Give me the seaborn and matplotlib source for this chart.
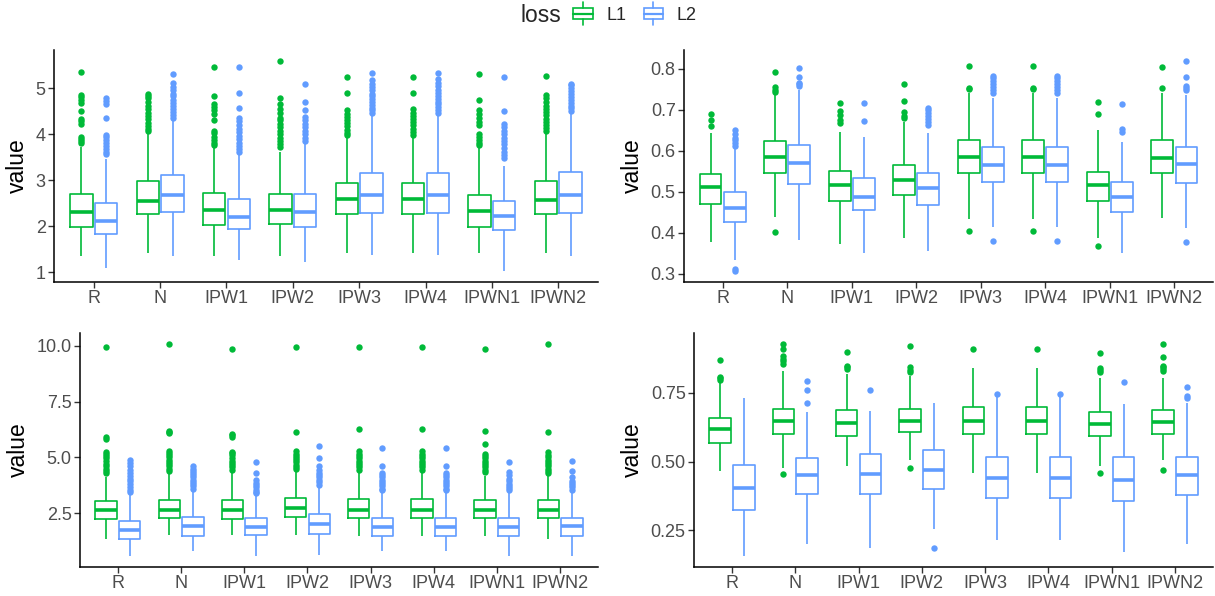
import numpy as np
import pandas as pd
import seaborn as sns
import matplotlib.pyplot as plt
from matplotlib.patches import Rectangle
from matplotlib.lines import Line2D
from matplotlib.legend_handler import HandlerBase

METHODS = ["R", "N", "IPW1", "IPW2", "IPW3", "IPW4", "IPWN1", "IPWN2"]
LOSSES = ["L1", "L2"]
COLORS = {"L1": "#00BA38", "L2": "#619CFF"}

# box summaries: (lower whisker, q1, median, q3, upper whisker)
P1_L1 = [(1.36, 1.99, 2.32, 2.71, 3.73), (1.43, 2.27, 2.56, 2.98, 4.02), (1.35, 2.03, 2.35, 2.72, 3.70),
         (1.35, 2.06, 2.36, 2.70, 3.62), (1.42, 2.27, 2.60, 2.95, 3.94), (1.42, 2.26, 2.60, 2.95, 3.95),
         (1.42, 1.99, 2.33, 2.69, 3.70), (1.42, 2.26, 2.57, 2.98, 4.02)]
P1_L1_OUT = [[3.82, 3.86, 3.90, 3.95, 4.22, 4.28, 4.33, 4.50, 4.68, 4.74, 4.80, 4.86, 5.35],
             [4.07, 4.12, 4.18, 4.25, 4.32, 4.40, 4.47, 4.55, 4.62, 4.70, 4.78, 4.84, 4.87],
             [3.77, 3.82, 3.88, 3.95, 4.02, 4.08, 4.30, 4.45, 4.52, 4.60, 4.65, 4.83, 5.45],
             [3.72, 3.78, 3.85, 3.92, 4.00, 4.08, 4.15, 4.22, 4.30, 4.35, 4.47, 4.55, 4.65, 4.78, 5.60],
             [3.98, 4.03, 4.10, 4.17, 4.24, 4.31, 4.38, 4.45, 4.52, 4.90, 5.25],
             [3.99, 4.05, 4.12, 4.19, 4.26, 4.33, 4.40, 4.47, 4.54, 4.90, 5.25],
             [3.76, 3.82, 3.88, 3.94, 4.00, 4.20, 4.27, 4.35, 4.43, 4.52, 4.75, 5.30],
             [4.08, 4.14, 4.20, 4.27, 4.34, 4.41, 4.48, 4.55, 4.62, 4.70, 4.78, 4.85, 5.27]]
P1_L2 = [(1.09, 1.83, 2.12, 2.50, 3.47), (1.36, 2.32, 2.68, 3.12, 4.30), (1.26, 1.94, 2.21, 2.60, 3.57),
         (1.22, 1.98, 2.32, 2.71, 3.78), (1.38, 2.30, 2.68, 3.16, 4.40), (1.38, 2.30, 2.68, 3.16, 4.40),
         (1.02, 1.92, 2.22, 2.54, 3.30), (1.35, 2.30, 2.67, 3.17, 4.45)]
P1_L2_OUT = [[3.56, 3.62, 3.68, 3.75, 3.82, 3.88, 3.93, 3.98, 4.35, 4.65, 4.72, 4.78],
             [4.36, 4.42, 4.48, 4.55, 4.62, 4.68, 4.75, 4.82, 4.88, 4.95, 5.02, 5.12, 5.30],
             [3.62, 3.68, 3.75, 3.82, 3.90, 3.97, 4.05, 4.12, 4.20, 4.28, 4.35, 4.57, 4.90, 5.47],
             [3.85, 3.92, 4.00, 4.08, 4.15, 4.22, 4.30, 4.38, 4.52, 4.70, 5.10],
             [4.47, 4.52, 4.58, 4.64, 4.70, 4.76, 4.82, 4.88, 4.95, 5.02, 5.10, 5.18, 5.32],
             [4.47, 4.53, 4.59, 4.65, 4.71, 4.77, 4.83, 4.90, 4.97, 5.04, 5.12, 5.20, 5.33],
             [3.49, 3.55, 3.62, 3.70, 3.78, 3.85, 3.92, 4.00, 4.08, 4.15, 4.22, 4.50, 5.25],
             [4.50, 4.56, 4.62, 4.68, 4.74, 4.80, 4.87, 4.94, 5.00, 5.06, 5.10]]

P2_L1 = [(0.377, 0.470, 0.511, 0.544, 0.644), (0.439, 0.545, 0.585, 0.623, 0.738), (0.371, 0.476, 0.515, 0.550, 0.646),
         (0.386, 0.492, 0.528, 0.566, 0.669), (0.432, 0.545, 0.584, 0.626, 0.740), (0.432, 0.545, 0.584, 0.626, 0.740),
         (0.386, 0.477, 0.515, 0.547, 0.650), (0.436, 0.546, 0.583, 0.626, 0.740)]
P2_L1_OUT = [[0.660, 0.675, 0.690], [0.402, 0.742, 0.748, 0.755, 0.792], [0.668, 0.675, 0.688, 0.698, 0.716],
             [0.680, 0.685, 0.695, 0.720, 0.762], [0.404, 0.750, 0.752, 0.807], [0.404, 0.750, 0.752, 0.807],
             [0.366, 0.690, 0.718], [0.752, 0.805]]
P2_L2 = [(0.334, 0.426, 0.459, 0.498, 0.604), (0.381, 0.519, 0.569, 0.613, 0.749), (0.351, 0.455, 0.488, 0.532, 0.633),
         (0.356, 0.468, 0.508, 0.545, 0.644), (0.414, 0.523, 0.566, 0.608, 0.728), (0.414, 0.523, 0.566, 0.608, 0.728),
         (0.351, 0.449, 0.487, 0.524, 0.622), (0.412, 0.520, 0.568, 0.610, 0.736)]
P2_L2_OUT = [[0.305, 0.310, 0.612, 0.618, 0.625, 0.632, 0.640, 0.650], [0.757, 0.762, 0.766, 0.781, 0.803],
             [0.672, 0.717], [0.662, 0.670, 0.678, 0.685, 0.692, 0.700, 0.705],
             [0.380, 0.740, 0.748, 0.755, 0.762, 0.770, 0.777, 0.782], [0.380, 0.740, 0.748, 0.755, 0.762, 0.770, 0.777, 0.782],
             [0.645, 0.652, 0.715], [0.378, 0.748, 0.752, 0.758, 0.780, 0.820]]

P3_L1 = [(1.35, 2.24, 2.63, 3.04, 4.12), (1.50, 2.29, 2.66, 3.10, 4.27), (1.50, 2.23, 2.63, 3.10, 4.30),
         (1.53, 2.32, 2.72, 3.17, 4.36), (1.49, 2.27, 2.66, 3.13, 4.32), (1.49, 2.27, 2.66, 3.13, 4.32),
         (1.49, 2.29, 2.66, 3.11, 4.17), (1.35, 2.29, 2.63, 3.08, 4.17)]
P3_L1_OUT = [[4.28, 4.40, 4.50, 4.62, 4.72, 4.85, 4.95, 5.05, 5.15, 5.25, 5.82, 5.90, 9.95],
             [4.40, 4.50, 4.60, 4.70, 4.80, 4.90, 5.00, 5.10, 5.20, 5.30, 6.08, 6.15, 6.20, 10.10],
             [4.45, 4.55, 4.65, 4.75, 4.85, 4.95, 5.10, 5.20, 5.25, 5.92, 6.00, 6.05, 9.88],
             [4.47, 4.57, 4.67, 4.77, 4.87, 4.97, 5.07, 5.17, 5.30, 6.15, 9.97],
             [4.45, 4.55, 4.65, 4.75, 4.85, 4.95, 5.05, 5.15, 5.30, 6.25, 9.97],
             [4.45, 4.55, 4.65, 4.75, 4.85, 4.95, 5.05, 5.15, 5.30, 6.25, 9.97],
             [4.36, 4.45, 4.55, 4.65, 4.75, 4.85, 4.95, 5.05, 5.15, 5.60, 6.20, 9.85],
             [4.30, 4.40, 4.50, 4.60, 4.70, 4.80, 4.90, 5.00, 5.10, 5.25, 6.15, 10.07]]
P3_L2 = [(0.56, 1.32, 1.73, 2.15, 3.34), (0.81, 1.49, 1.91, 2.32, 3.52), (0.56, 1.53, 1.86, 2.26, 3.30),
         (0.63, 1.56, 2.00, 2.44, 3.64), (0.78, 1.46, 1.86, 2.27, 3.45), (0.78, 1.46, 1.86, 2.27, 3.45),
         (0.56, 1.46, 1.86, 2.27, 3.41), (0.59, 1.49, 1.91, 2.30, 3.41)]
P3_L2_OUT = [[3.45, 3.55, 3.65, 3.80, 3.95, 4.05, 4.15, 4.30, 4.45, 4.60, 4.75, 4.88],
             [3.60, 3.70, 3.80, 3.90, 4.00, 4.10, 4.20, 4.30, 4.40, 4.50, 4.60],
             [3.38, 3.45, 3.55, 3.65, 3.75, 3.85, 4.00, 4.30, 4.80],
             [3.78, 3.88, 3.98, 4.10, 4.20, 4.30, 4.45, 4.60, 4.95, 5.50],
             [3.52, 3.60, 3.70, 3.80, 3.90, 4.00, 4.10, 4.20, 4.30, 4.60, 5.40],
             [3.52, 3.60, 3.70, 3.80, 3.90, 4.00, 4.10, 4.20, 4.30, 4.60, 5.40],
             [3.52, 3.62, 3.72, 3.82, 3.92, 4.05, 4.20, 4.35, 4.80],
             [3.55, 3.65, 3.75, 3.85, 3.95, 4.10, 4.40, 4.85]]

P4_L1 = [(0.467, 0.568, 0.618, 0.659, 0.787), (0.475, 0.599, 0.649, 0.693, 0.830), (0.482, 0.592, 0.640, 0.687, 0.820),
         (0.504, 0.606, 0.648, 0.690, 0.812), (0.457, 0.599, 0.647, 0.698, 0.841), (0.457, 0.599, 0.647, 0.698, 0.841),
         (0.485, 0.594, 0.636, 0.679, 0.804), (0.506, 0.602, 0.645, 0.688, 0.804)]
P4_L1_OUT = [[0.797, 0.803, 0.810, 0.870], [0.455, 0.855, 0.865, 0.875, 0.885, 0.910, 0.930],
             [0.838, 0.845, 0.850, 0.900], [0.476, 0.825, 0.835, 0.845, 0.920], [0.910], [0.910],
             [0.457, 0.828, 0.835, 0.842, 0.895], [0.470, 0.830, 0.838, 0.845, 0.850, 0.880, 0.930]]
P4_L2 = [(0.154, 0.324, 0.405, 0.489, 0.730), (0.198, 0.381, 0.450, 0.512, 0.681), (0.186, 0.381, 0.453, 0.526, 0.683),
         (0.254, 0.400, 0.469, 0.543, 0.712), (0.213, 0.366, 0.440, 0.516, 0.735), (0.213, 0.366, 0.440, 0.516, 0.735),
         (0.171, 0.356, 0.432, 0.515, 0.708), (0.198, 0.378, 0.451, 0.516, 0.715)]
P4_L2_OUT = [[], [0.715, 0.760, 0.795], [0.762], [0.183], [0.745], [0.745], [0.790], [0.732, 0.740, 0.770]]

REP = 100  # copies of each quartile so the drawn box matches the read summary


def panel_frame(l1, l1_out, l2, l2_out):
    rows = []
    for loss, stats, outs in (("L1", l1, l1_out), ("L2", l2, l2_out)):
        for m, (lo, q1, med, q3, hi), extra in zip(METHODS, stats, outs):
            vals = [lo, hi] + [q1] * REP + [med] * REP + [q3] * REP + list(extra)
            rows += [(m, loss, v) for v in vals]
    return pd.DataFrame(rows, columns=["method", "loss", "value"])


class BoxKey(HandlerBase):
    # ggplot-like legend key: small box with median and whiskers
    def create_artists(self, legend, orig, xd, yd, w, h, fs, trans):
        c = orig.get_edgecolor()
        x0, y0 = -xd, -yd
        xc = x0 + w / 2
        box = Rectangle((x0 + 0.05 * w, y0 + 0.15 * h), 0.9 * w, 0.7 * h, fill=False,
                        edgecolor=c, linewidth=1.2, transform=trans)
        med = Line2D([x0 + 0.05 * w, x0 + 0.95 * w], [y0 + 0.5 * h] * 2, color=c, linewidth=1.6, transform=trans)
        lo = Line2D([xc, xc], [y0 - 0.25 * h, y0 + 0.15 * h], color=c, linewidth=1.2, transform=trans)
        hi = Line2D([xc, xc], [y0 + 0.85 * h, y0 + 1.25 * h], color=c, linewidth=1.2, transform=trans)
        return [box, med, lo, hi]


sns.set_style("ticks")
plt.rcParams["font.family"] = ["Liberation Sans", "DejaVu Sans"]

fig = plt.figure(figsize=(12.15, 5.96), dpi=100)

panels = [
    ((P1_L1, P1_L1_OUT, P1_L2, P1_L2_OUT), [54, 50, 598, 282], [1, 2, 3, 4, 5], ["1", "2", "3", "4", "5"]),
    ((P2_L1, P2_L1_OUT, P2_L2, P2_L2_OUT), [684, 50, 1213, 282], [0.3, 0.4, 0.5, 0.6, 0.7, 0.8],
     ["0.3", "0.4", "0.5", "0.6", "0.7", "0.8"]),
    ((P3_L1, P3_L1_OUT, P3_L2, P3_L2_OUT), [80, 333, 598, 567], [2.5, 5.0, 7.5, 10.0], ["2.5", "5.0", "7.5", "10.0"]),
    ((P4_L1, P4_L1_OUT, P4_L2, P4_L2_OUT), [694, 333, 1213, 567], [0.25, 0.50, 0.75], ["0.25", "0.50", "0.75"]),
]

W, H = 1215, 596
for data, (x0, y0, x1, y1), ticks, labels in panels:
    ax = fig.add_axes([x0 / W, 1 - y1 / H, (x1 - x0) / W, (y1 - y0) / H])
    df = panel_frame(*data)
    sns.boxplot(data=df, x="method", y="value", hue="loss", order=METHODS, hue_order=LOSSES,
                palette=COLORS, fill=False, width=0.75, gap=0.1, showcaps=False, linewidth=1.2,
                flierprops=dict(marker="o", markersize=4.6, markeredgewidth=0),
                medianprops=dict(linewidth=2.6), legend=False, ax=ax)
    # solid outlier dots in the box colour
    for line in ax.lines:
        xs = np.asarray(line.get_xdata(), dtype=float)
        if line.get_marker() == "o" and len(xs):
            c = COLORS["L1"] if np.mod(xs[0], 1) > 0.5 else COLORS["L2"]
            line.set_markerfacecolor(c)
            line.set_markeredgecolor(c)
    ax.set_xlim(-0.6, 7.6)
    ax.set_yticks(ticks)
    ax.set_yticklabels(labels)
    ax.set_xlabel("")
    ax.set_ylabel("value", fontsize=16.5, color="black", labelpad=5)
    ax.tick_params(axis="both", labelsize=13, labelcolor="#4D4D4D", color="#333333",
                   length=4, width=1, pad=2)
    sns.despine(ax=ax)
    for s in ("left", "bottom"):
        ax.spines[s].set_linewidth(1.1)
        ax.spines[s].set_color("black")

fig.text(521 / W, 1 - 15 / H, "loss", ha="left", va="center", fontsize=16.5)
handles = [Rectangle((0, 0), 1, 1, fill=False, edgecolor=COLORS[l]) for l in LOSSES]
fig.legend(handles, LOSSES, loc="center left", bbox_to_anchor=(572 / W, 1 - 15 / H), ncol=2,
           frameon=False, fontsize=13, handler_map={Rectangle: BoxKey()}, handlelength=1.2,
           handleheight=0.9, handletextpad=0.7, columnspacing=0.9, borderpad=0, borderaxespad=0)

fig.savefig("out.png", dpi=100)
